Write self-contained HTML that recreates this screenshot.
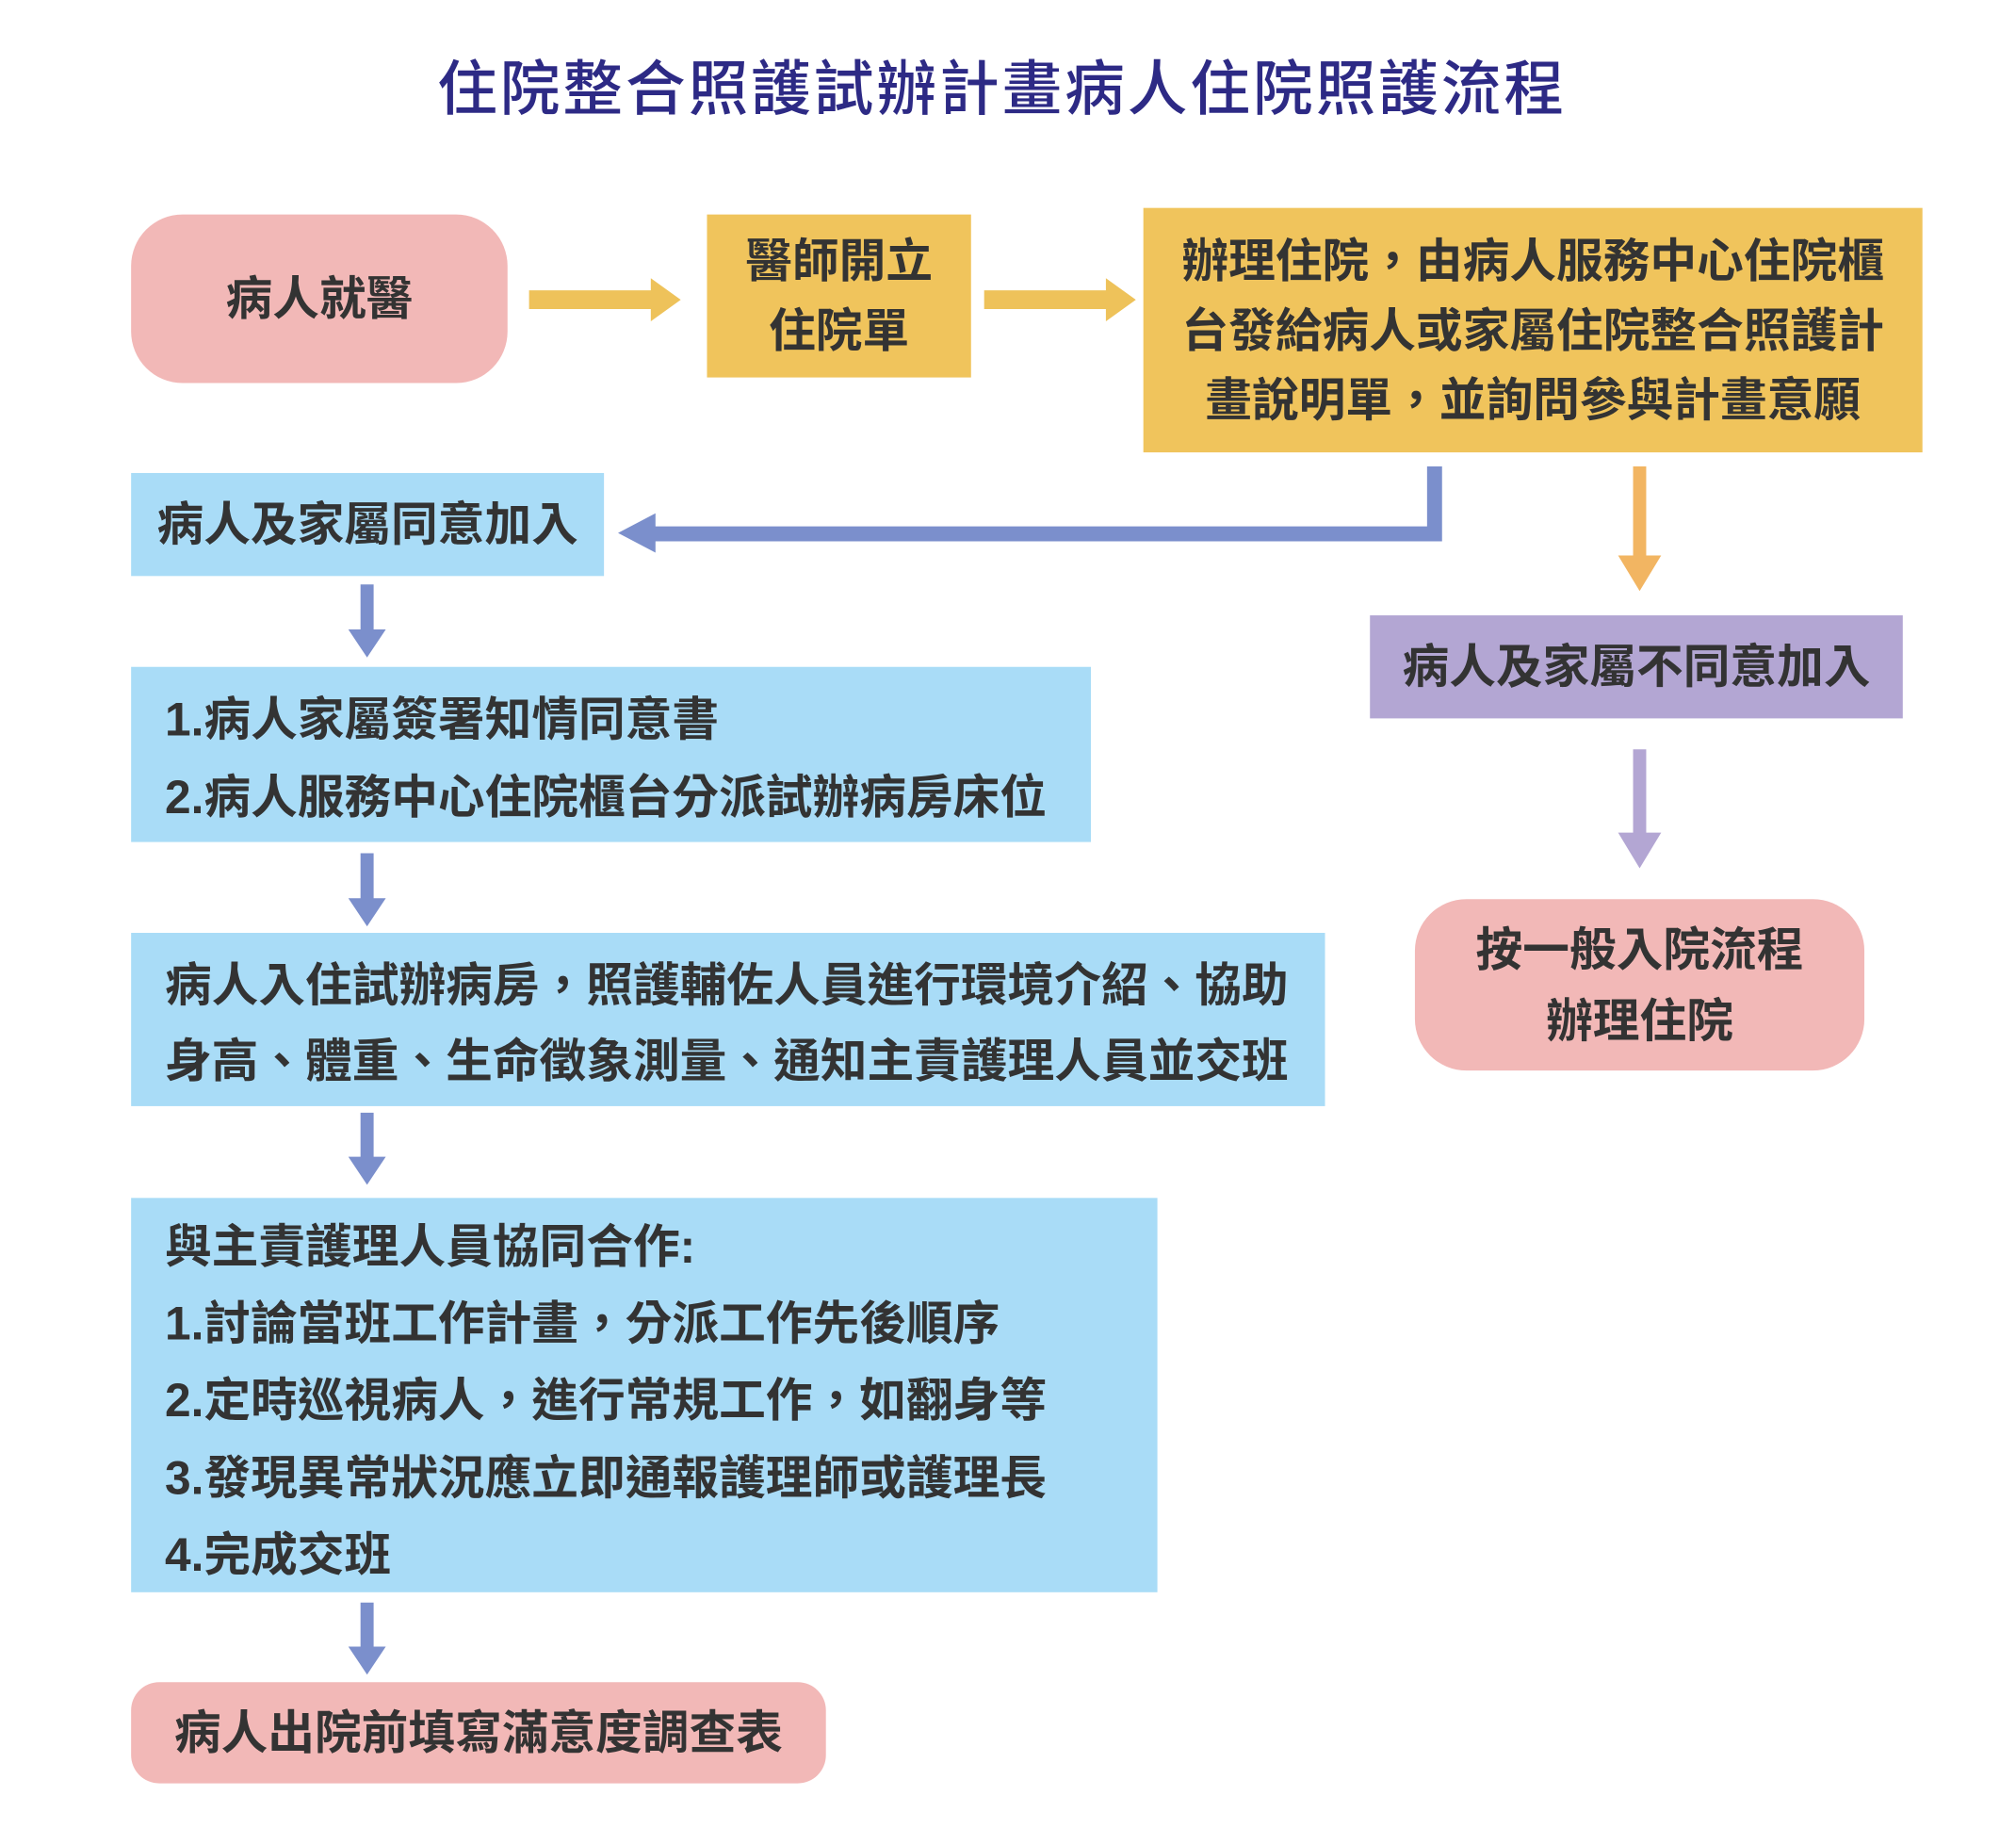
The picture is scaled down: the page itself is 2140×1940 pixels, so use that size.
<!DOCTYPE html>
<html><head><meta charset="utf-8"><style>
body{margin:0;width:2140px;height:1940px;background:#fff;position:relative;overflow:hidden;font-family:"Liberation Sans","Noto Sans CJK TC",sans-serif;color:#333}
#w{position:absolute;left:0;top:0;width:2140px;height:1940px;transform:scale(0.994);transform-origin:0 0}
.b{position:absolute;box-sizing:border-box;font-size:50px;font-weight:bold;line-height:1}
.c{display:flex;align-items:center;justify-content:center;text-align:center}
.t{position:absolute;left:0;width:2140px;top:44px;text-align:center;font-size:64px;color:#2d2a85;letter-spacing:3px;font-weight:500}
.l{position:absolute;left:36px;white-space:nowrap}
svg{position:absolute;left:0;top:0}
</style></head><body><div id="w">
<div class="t">住院整合照護試辦計畫病人住院照護流程</div>
<div class="b c" style="left:140px;top:229px;width:402px;height:180px;background:#f2b8b7;border-radius:55px">病人就醫</div>
<div class="b c" style="left:755px;top:229px;width:282px;height:174px;background:#f0c45c;line-height:74px">醫師開立<br>住院單</div>
<div class="b c" style="left:1221px;top:222px;width:832px;height:261px;background:#f0c45c;line-height:74px">辦理住院，由病人服務中心住院櫃<br>台發給病人或家屬住院整合照護計<br>畫說明單，並詢問參與計畫意願</div>
<div class="b c" style="left:140px;top:505px;width:505px;height:110px;background:#a9dcf7">病人及家屬同意加入</div>
<div class="b c" style="left:1463px;top:657px;width:569px;height:110px;background:#b3a6d3">病人及家屬不同意加入</div>
<div class="b c" style="left:1511px;top:960px;width:480px;height:183px;background:#f2b8b7;border-radius:55px;line-height:76px">按一般入院流程<br>辦理住院</div>
<div class="b" style="left:140px;top:712px;width:1025px;height:187px;background:#a9dcf7"><div class="l" style="top:31px">1.病人家屬簽署知情同意書</div><div class="l" style="top:114px">2.病人服務中心住院櫃台分派試辦病房床位</div></div>
<div class="b" style="left:140px;top:996px;width:1275px;height:185px;background:#a9dcf7"><div class="l" style="top:31px">病人入住試辦病房，照護輔佐人員進行環境介紹、協助</div><div class="l" style="top:112px">身高、體重、生命徵象測量、通知主責護理人員並交班</div></div>
<div class="b" style="left:140px;top:1279px;width:1096px;height:421px;background:#a9dcf7">
<div class="l" style="top:27px">與主責護理人員協同合作:</div>
<div class="l" style="top:109px">1.討論當班工作計畫，分派工作先後順序</div>
<div class="l" style="top:191px">2.定時巡視病人，進行常規工作，如翻身等</div>
<div class="l" style="top:274px">3.發現異常狀況應立即通報護理師或護理長</div>
<div class="l" style="top:356px">4.完成交班</div></div>
<div class="b c" style="left:140px;top:1796px;width:742px;height:108px;background:#f2b8b7;border-radius:30px">病人出院前填寫滿意度調查表</div>
<svg width="2140" height="1940">
<g fill="#eec25a">
<polygon points="565,310 695,310 695,297 727,320 695,343 695,330 565,330"/>
<polygon points="1051,310 1181,310 1181,297 1213,320 1181,343 1181,330 1051,330"/>
</g>
<g fill="#7b8fcc">
<polygon points="1524,498 1540,498 1540,578 700,578 700,590 660,569 700,548 700,562 1524,562"/>
<polygon points="385,624 399,624 399,672 412,672 392,702 372,672 385,672"/>
<polygon points="385,911 399,911 399,959 412,959 392,989 372,959 385,959"/>
<polygon points="385,1188 399,1188 399,1235 412,1235 392,1265 372,1235 385,1235"/>
<polygon points="385,1711 399,1711 399,1758 412,1758 392,1788 372,1758 385,1758"/>
</g>
<polygon fill="#f2b562" points="1744,498 1758,498 1758,593 1774,593 1751,631 1728,593 1744,593"/>
<polygon fill="#b3a6d3" points="1744,800 1758,800 1758,889 1774,889 1751,927 1728,889 1744,889"/>
</svg>
</div></body></html>
